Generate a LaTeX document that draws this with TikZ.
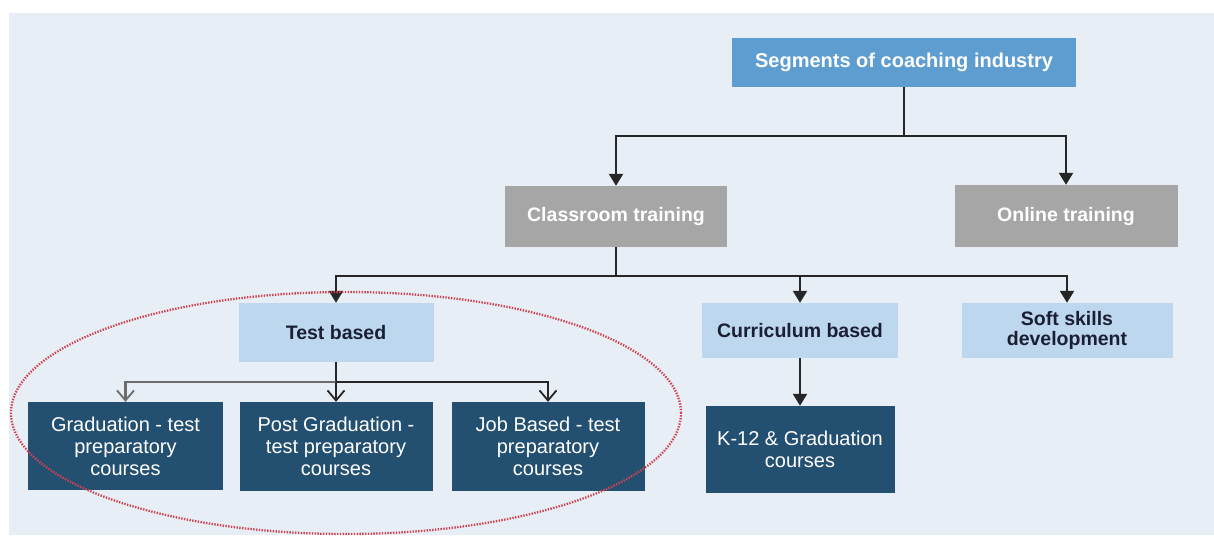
\documentclass[tikz,border=0pt]{standalone}
\usepackage{fontspec}
\setmainfont{Liberation Sans}
\usetikzlibrary{arrows.meta}
\definecolor{bgc}{HTML}{E7EEF6}
\definecolor{topc}{HTML}{5E9DD0}
\definecolor{grayc}{HTML}{A6A6A6}
\definecolor{lightc}{HTML}{BDD7EE}
\definecolor{darkc}{HTML}{235071}
\definecolor{linec}{HTML}{262626}
\definecolor{txtc}{HTML}{1B1F33}
\definecolor{ellc}{HTML}{D0424F}
\tikzset{
  box/.style={rectangle, inner sep=0pt, align=center, anchor=center},
  topbox/.style={box, fill=topc, text=white, font=\bfseries\fontsize{20}{22}\selectfont},
  graybox/.style={box, fill=grayc, text=white, font=\bfseries\fontsize{19.5}{22}\selectfont},
  lightbox/.style={box, fill=lightc, text=txtc, font=\bfseries\fontsize{19.5}{20}\selectfont},
  darkbox/.style={box, fill=darkc, text=white, font=\fontsize{20}{22}\selectfont},
  conn/.style={draw=linec, line width=2.2pt},
  arr/.style={conn, -{Triangle[width=14pt,length=12pt]}},
  varr/.style={conn, -{Straight Barb[width=17pt,length=10pt,line width=1.8pt]}},
  varrg/.style={varr, draw=gray!85!black}
}
\begin{document}
\begin{tikzpicture}[x=1pt,y=-1pt]
\useasboundingbox (0,0) rectangle (1214,535);
\fill[white] (0,0) rectangle (1214,535);
\fill[bgc] (9,13) rectangle (1214,535);

\node[topbox, minimum width=344pt, minimum height=49pt] (top) at (904,62.5) {Segments of coaching industry};
\node[graybox, minimum width=222pt, minimum height=61pt] (class) at (616,216.5) {Classroom training};
\node[graybox, minimum width=223pt, minimum height=62pt] (online) at (1066,216) {Online training};
\node[lightbox, minimum width=195pt, minimum height=59pt] (test) at (336,332.5) {Test based};
\node[lightbox, minimum width=196pt, minimum height=55pt] (curr) at (800,330.5) {Curriculum based};
\node[lightbox, minimum width=211pt, minimum height=55pt] (soft) at (1067,330.5) {Soft skills\\development};
\node[darkbox, minimum width=195pt, minimum height=88pt] (grad) at (125.5,446) {Graduation - test\\preparatory\\courses};
\node[darkbox, minimum width=193pt, minimum height=89pt] (post) at (336,446.5) {Post Graduation -\\test preparatory\\courses};
\node[darkbox, minimum width=193pt, minimum height=89pt] (job) at (548,446.5) {Job Based - test\\preparatory\\courses};
\node[darkbox, minimum width=189pt, minimum height=87pt] (k12) at (800,449.5) {K-12 \& Graduation\\courses};

% level 1
\coordinate (j1) at (top.south |- 0,136);
\draw[conn] (top.south) -- (j1);
\draw[arr] (j1) -| (class.north);
\draw[arr] (j1) -| (online.north);

% level 2
\coordinate (j2) at (class.south |- 0,276);
\draw[conn] (class.south) -- (j2);
\draw[arr] (j2) -| (test.north);
\draw[arr] (j2) -| (curr.north);
\draw[arr] (j2) -| (soft.north);

% level 3
\coordinate (j3) at (test.south |- 0,382);
\draw[conn] (test.south) -- (j3);
\draw[varrg] (j3) -| (grad.north);
\draw[varr] (j3) -- (post.north);
\draw[varr] (j3) -| (job.north);
\draw[arr] (curr.south) -- (k12.north);

% highlight
\draw[ellc, line width=2.3pt, dash pattern=on 1.4pt off 1.4pt] (346,413) ellipse [x radius=335pt, y radius=121pt];
\end{tikzpicture}
\end{document}
